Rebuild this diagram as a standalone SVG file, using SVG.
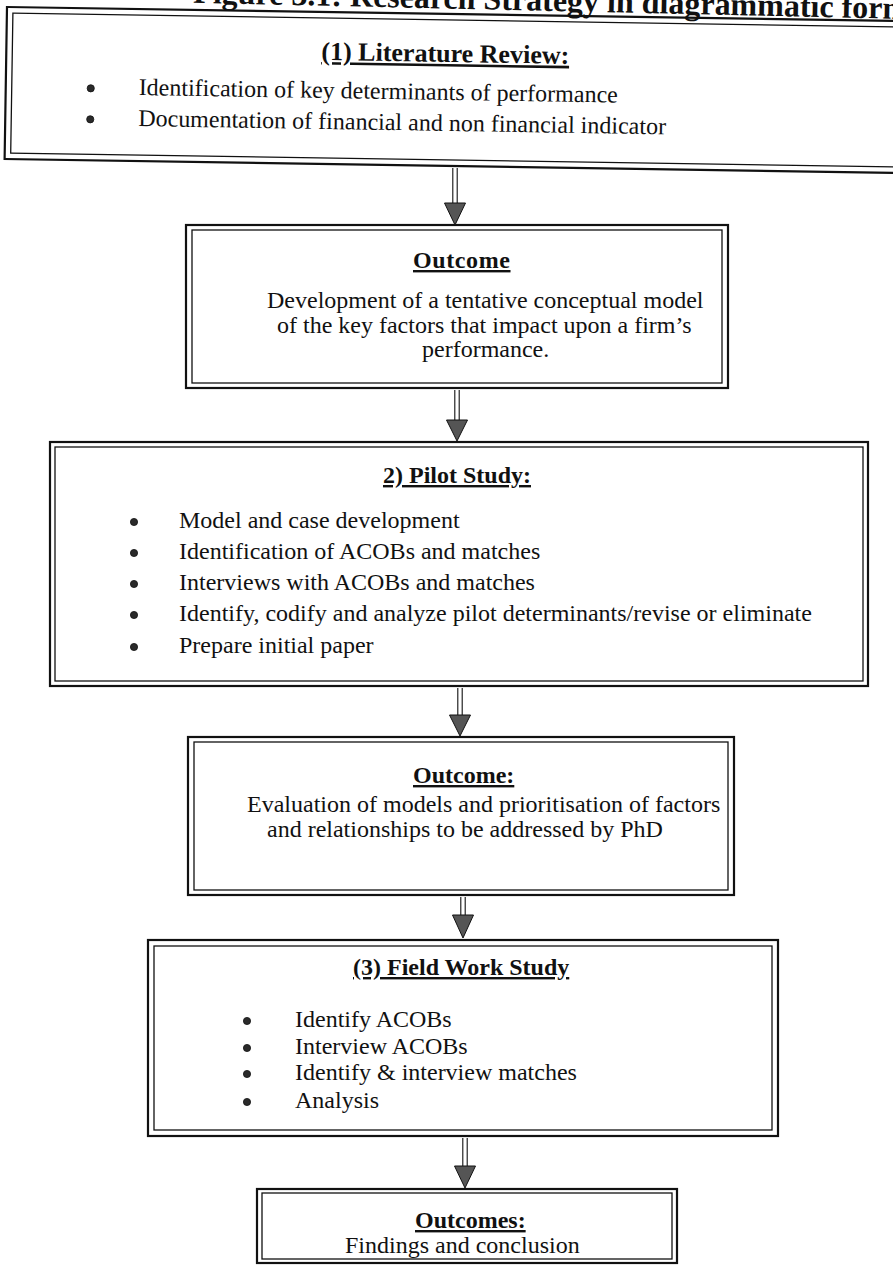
<svg xmlns="http://www.w3.org/2000/svg" width="893" height="1275" viewBox="0 0 893 1275">
  <style>
    .frame-o { fill: none; stroke: #111; stroke-width: 2.2; }
    .frame-i { fill: none; stroke: #111; stroke-width: 1.3; }
    .hd { font-family: "Liberation Serif", "Times New Roman", serif; font-weight: bold; font-size: 24px; text-decoration: underline; fill: #111; }
    .tx { font-family: "Liberation Serif", "Times New Roman", serif; font-size: 24px; fill: #111; }
    .title { font-family: "Liberation Serif", "Times New Roman", serif; font-weight: bold; font-size: 32px; fill: #111; }
    .dot { fill: #2a2a2a; stroke: #111; stroke-width: 0.8; }
    .shaft { stroke: #111; stroke-width: 1.1; fill: none; }
    .head { fill: #555; stroke: #111; stroke-width: 1; }
  </style>
  <rect width="893" height="1275" fill="#fff"/>

  <!-- page title, running off the top edge -->
  <g id="title" transform="rotate(1.3 600 12)">
    <text class="title" x="193" y="12">Figure 3.1: Research Strategy in diagrammatic form</text>
  </g>

  <!-- (1) Literature Review -->
  <g id="literature-review" transform="rotate(0.9 7 7)">
    <rect class="frame-o" x="7" y="7" width="920" height="152"/>
    <rect class="frame-i" x="13" y="13" width="908" height="140"/>
    <text class="hd" x="446" y="55" text-anchor="middle" style="font-size:26px">(1) Literature Review:</text>
    <circle class="dot" cx="92" cy="87" r="3.6"/>
    <circle class="dot" cx="92" cy="118" r="3.6"/>
    <text class="tx" x="140" y="93">Identification of key determinants of performance</text>
    <text class="tx" x="140" y="124">Documentation of financial and non financial indicator</text>
  </g>

  <!-- Outcome of the review -->
  <g id="outcome-model">
    <rect class="frame-o" x="186" y="225" width="542" height="163"/>
    <rect class="frame-i" x="192" y="230" width="530" height="153"/>
    <text class="hd" x="413" y="268" style="letter-spacing:0.6px">Outcome</text>
    <text class="tx" x="267" y="308">Development of a tentative conceptual model</text>
    <text class="tx" x="277" y="333">of the key factors that impact upon a firm’s</text>
    <text class="tx" x="422" y="357">performance.</text>
  </g>

  <!-- 2) Pilot Study -->
  <g id="pilot-study">
    <rect class="frame-o" x="50" y="442" width="818" height="244"/>
    <rect class="frame-i" x="55" y="447" width="808" height="234"/>
    <text class="hd" x="457" y="483" text-anchor="middle">2) Pilot Study:</text>
    <circle class="dot" cx="134" cy="522" r="3.6"/>
    <circle class="dot" cx="134" cy="553" r="3.6"/>
    <circle class="dot" cx="134" cy="584" r="3.6"/>
    <circle class="dot" cx="134" cy="615" r="3.6"/>
    <circle class="dot" cx="134" cy="647" r="3.6"/>
    <text class="tx" x="179" y="528">Model and case development</text>
    <text class="tx" x="179" y="559">Identification of ACOBs and matches</text>
    <text class="tx" x="179" y="590">Interviews with ACOBs and matches</text>
    <text class="tx" x="179" y="621">Identify, codify and analyze pilot determinants/revise or eliminate</text>
    <text class="tx" x="179" y="653">Prepare initial paper</text>
  </g>

  <!-- Outcome of the pilot -->
  <g id="outcome-evaluation">
    <rect class="frame-o" x="188" y="737" width="546" height="158"/>
    <rect class="frame-i" x="194" y="742" width="534" height="148"/>
    <text class="hd" x="413" y="783">Outcome:</text>
    <text class="tx" x="247" y="812">Evaluation of models and prioritisation of factors</text>
    <text class="tx" x="267" y="837">and relationships to be addressed by PhD</text>
  </g>

  <!-- (3) Field Work Study -->
  <g id="field-work">
    <rect class="frame-o" x="148" y="940" width="630" height="196"/>
    <rect class="frame-i" x="154" y="946" width="618" height="184"/>
    <text class="hd" x="353" y="975">(3) Field Work Study</text>
    <circle class="dot" cx="247" cy="1021" r="3.6"/>
    <circle class="dot" cx="247" cy="1048" r="3.6"/>
    <circle class="dot" cx="247" cy="1074" r="3.6"/>
    <circle class="dot" cx="247" cy="1102" r="3.6"/>
    <text class="tx" x="295" y="1027">Identify ACOBs</text>
    <text class="tx" x="295" y="1054">Interview ACOBs</text>
    <text class="tx" x="295" y="1080">Identify &amp; interview matches</text>
    <text class="tx" x="295" y="1108">Analysis</text>
  </g>

  <!-- Final outcomes -->
  <g id="outcomes-final">
    <rect class="frame-o" x="257" y="1189" width="420" height="74"/>
    <rect class="frame-i" x="262" y="1193" width="410" height="66"/>
    <text class="hd" x="415" y="1228">Outcomes:</text>
    <text class="tx" x="345" y="1253">Findings and conclusion</text>
  </g>

  <!-- connectors: double shaft with shaded head -->
  <g id="connectors">
    <line class="shaft" x1="452.8" y1="168" x2="452.8" y2="204"/>
    <line class="shaft" x1="457.2" y1="168" x2="457.2" y2="204"/>
    <polygon class="head" points="444.5,203 465.5,203 455,225"/>

    <line class="shaft" x1="454.8" y1="390" x2="454.8" y2="421"/>
    <line class="shaft" x1="459.2" y1="390" x2="459.2" y2="421"/>
    <polygon class="head" points="446.5,420 467.5,420 457,441"/>

    <line class="shaft" x1="457.8" y1="688" x2="457.8" y2="716"/>
    <line class="shaft" x1="462.2" y1="688" x2="462.2" y2="716"/>
    <polygon class="head" points="449.5,715 470.5,715 460,736"/>

    <line class="shaft" x1="460.8" y1="897" x2="460.8" y2="916"/>
    <line class="shaft" x1="465.2" y1="897" x2="465.2" y2="916"/>
    <polygon class="head" points="452.5,915 473.5,915 463,938"/>

    <line class="shaft" x1="462.8" y1="1138" x2="462.8" y2="1167"/>
    <line class="shaft" x1="467.2" y1="1138" x2="467.2" y2="1167"/>
    <polygon class="head" points="454.5,1166 475.5,1166 465,1188"/>
  </g>
</svg>
